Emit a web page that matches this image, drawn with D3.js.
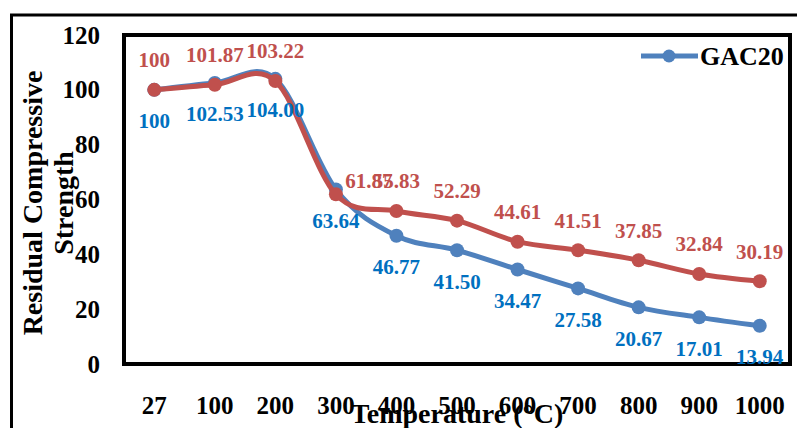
<!DOCTYPE html>
<html>
<head>
<meta charset="utf-8">
<script src="https://cdn.jsdelivr.net/npm/d3@7"></script>
<style>
  html, body { margin: 0; padding: 0; background: #fff; }
  svg { display: block; }
  text { font-family: "Liberation Serif", "Times New Roman", serif; font-weight: bold; }
</style>
</head>
<body>
<svg id="chart" width="797" height="428"></svg>
<script>
// Temperatures (°C) along the x axis
const categories = ["27", "100", "200", "300", "400", "500", "600", "700", "800", "900", "1000"];
// Residual compressive strength (%), kept as printed in the value labels
const gac20Values = ["100", "102.53", "104.00", "63.64", "46.77", "41.50", "34.47", "27.58", "20.67", "17.01", "13.94"];
const secondValues = ["100", "101.87", "103.22", "61.87", "55.83", "52.29", "44.61", "41.51", "37.85", "32.84", "30.19"];
const yTicks = [0, 20, 40, 60, 80, 100, 120];
const legendNames = ["GAC20"];

const W = 797, H = 428;
const plot = { left: 124, right: 790, top: 35, bottom: 364 };
const svg = d3.select("#chart");

const x = d3.scaleBand().domain(categories).range([plot.left, plot.right]);
const y = d3.scaleLinear().domain([0, 120]).range([plot.bottom, plot.top]);
const cx = c => x(c) + x.bandwidth() / 2;

// outer frame (left and top edges)
svg.append("path")
  .attr("d", `M11.5,${H} V15 H${W}`)
  .attr("fill", "none").attr("stroke", "#000").attr("stroke-width", 3);

// plot area border
svg.append("rect")
  .attr("x", plot.left).attr("y", plot.top)
  .attr("width", plot.right - plot.left).attr("height", plot.bottom - plot.top)
  .attr("fill", "#fff").attr("stroke", "#000").attr("stroke-width", 4);

// y axis
const yAxis = svg.append("g")
  .attr("transform", `translate(${plot.left},0)`)
  .call(d3.axisLeft(y).tickValues(yTicks).tickSize(0).tickPadding(24));
yAxis.select(".domain").remove();
yAxis.selectAll("text")
  .attr("font-size", 25).attr("fill", "#000")
  .attr("font-family", "Liberation Serif").attr("font-weight", "bold");

// x axis
const xAxis = svg.append("g")
  .attr("transform", `translate(0,${plot.bottom})`)
  .call(d3.axisBottom(x).tickSize(0));
xAxis.select(".domain").remove();
xAxis.selectAll("text")
  .attr("y", 50).attr("dy", 0)
  .attr("font-size", 25).attr("fill", "#000")
  .attr("font-family", "Liberation Serif").attr("font-weight", "bold");

// axis titles
const yTitle = svg.append("text")
  .attr("transform", "translate(42,203) rotate(-90)")
  .attr("text-anchor", "middle")
  .attr("font-size", 28).attr("fill", "#000");
yTitle.append("tspan").attr("x", 0).attr("y", 0).text("Residual Compressive");
yTitle.append("tspan").attr("x", 0).attr("y", 31).text("Strength");

svg.append("text")
  .attr("x", 457).attr("y", 423)
  .attr("text-anchor", "middle")
  .attr("font-size", 28).attr("fill", "#000")
  .text("Temperature (°C)");

// series
const seriesList = [
  { values: gac20Values, line: "#4F81BD", label: "#0070C0", labelDy: 31 },
  { values: secondValues, line: "#C0504D", label: "#C0504D", labelDy: -30 }
];
// manual placement for the crowded label at 300 °C of the second series
const labelNudge = [{}, { 3: [33, 16] }];

const line = d3.line()
  .x((d, i) => cx(categories[i]))
  .y(d => y(+d))
  .curve(d3.curveCardinal.tension(0));

seriesList.forEach(s => {
  svg.append("path")
    .datum(s.values)
    .attr("d", line)
    .attr("fill", "none")
    .attr("stroke", s.line)
    .attr("stroke-width", 5)
    .attr("stroke-linejoin", "round");
  svg.append("g").selectAll("circle")
    .data(s.values)
    .join("circle")
    .attr("cx", (d, i) => cx(categories[i]))
    .attr("cy", d => y(+d))
    .attr("r", 7)
    .attr("fill", s.line);
});

seriesList.forEach((s, k) => {
  svg.append("g").selectAll("text")
    .data(s.values)
    .join("text")
    .attr("x", (d, i) => cx(categories[i]) + ((labelNudge[k][i] || [0, 0])[0]))
    .attr("y", (d, i) => y(+d) + s.labelDy + ((labelNudge[k][i] || [0, 0])[1]))
    .attr("dy", "0.35em")
    .attr("text-anchor", "middle")
    .attr("font-size", 21)
    .attr("fill", s.label)
    .text(d => d);
});

// legend
const lg = svg.append("g").attr("transform", "translate(641,56)");
lg.append("line").attr("x1", 0).attr("x2", 57).attr("y1", 0).attr("y2", 0)
  .attr("stroke", "#4F81BD").attr("stroke-width", 5);
lg.append("circle").attr("cx", 28).attr("cy", 0).attr("r", 6.5).attr("fill", "#4F81BD");
lg.append("text").attr("x", 59).attr("y", 0).attr("dy", "0.35em")
  .attr("font-size", 26).attr("fill", "#000").text(legendNames[0]);
</script>
</body>
</html>
